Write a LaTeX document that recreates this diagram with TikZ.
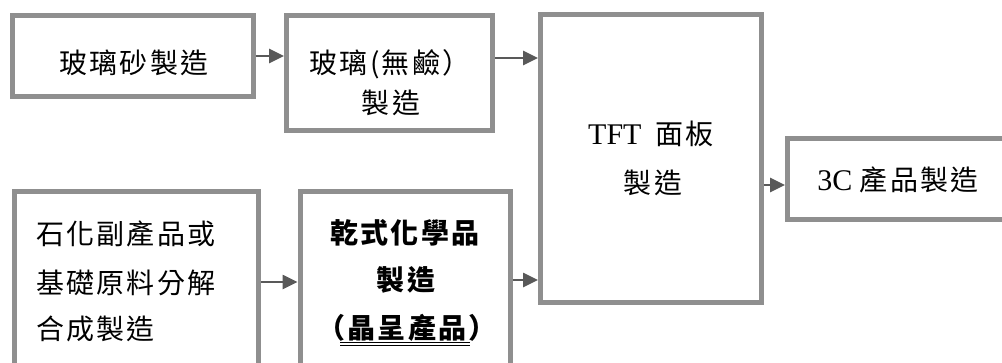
\documentclass[tikz,border=0pt]{standalone}
\usepackage{fontspec}
\setmainfont{Liberation Serif}
\newfontfamily\cjk{Noto Sans CJK TC}[LetterSpace=8]
\usetikzlibrary{arrows.meta}
\definecolor{boxgray}{HTML}{8F8F8F}
\definecolor{arrgray}{HTML}{595959}
\tikzset{
  box/.style={draw=boxgray, line width=5pt, fill=white, inner sep=0pt, rectangle},
  arr/.style={draw=arrgray, line width=2.6pt, -{Triangle[length=15pt,width=14pt]}},
  cj/.style={inner sep=0pt, anchor=base, font=\cjk\fontsize{28}{32}\selectfont},
  cjb/.style={cj, font=\cjk\bfseries\fontsize{28}{32}\selectfont},
  la/.style={inner sep=0pt, anchor=base, font=\fontsize{30}{36}\selectfont}
}
\begin{document}
\begin{tikzpicture}[x=1pt,y=-1pt]
\useasboundingbox (0,0) rectangle (1002,362);
% boxes
\node[box, minimum width=241pt, minimum height=81pt] (b1) at (132.5,56) {};
\node[box, minimum width=206pt, minimum height=115.5pt] (b2) at (389.5,72.75) {};
\node[box, minimum width=221pt, minimum height=288pt] (tft) at (651,158.5) {};
\node[box, minimum width=240pt, minimum height=81.5pt] (c3) at (907.5,178.75) {};
\node[box, minimum width=244.5pt, minimum height=190pt] (b4) at (136.25,286.8) {};
\node[box, minimum width=210pt, minimum height=190pt] (b5) at (405,286.8) {};
% texts
\node[cj] (t1) at (134,73) {玻璃砂製造};
\node[cj] (t2a) at (390,73) {玻璃(無鹼）};
\node[cj] (t2b) at (391,113) {製造};
\node[la] (t3a) at (651,144) {TFT\hspace{14pt}{\cjk\fontsize{28}{32}\selectfont 面板}};
\node[cj] (t3b) at (653,193) {製造};
\node[la] (t4) at (898,190) {3C {\cjk\fontsize{28}{32}\selectfont 產品製造}};
\node[cj, anchor=base west] (t5a) at (36,244) {石化副產品或};
\node[cj, anchor=base west] (t5b) at (36,293) {基礎原料分解};
\node[cj, anchor=base west] (t5c) at (36,339) {合成製造};
\node[cjb] (t6a) at (405,243) {乾式化學品};
\node[cjb] (t6b) at (406,290) {製造};
\node[cjb] (t6c) at (407,338) {（晶呈產品）};
\draw[black, line width=1pt] (340,342) -- (470,342);
\draw[black, line width=1pt] (340,345.3) -- (470,345.3);
% arrows
\draw[arr] (b1.east |- 0,56) -- (b2.west |- 0,56);
\draw[arr] (b2.east |- 0,58) -- (tft.west |- 0,58);
\draw[arr] (b4.east |- 0,282) -- (b5.west |- 0,282);
\draw[arr] (b5.east |- 0,280) -- (tft.west |- 0,280);
\draw[arr] (tft.east |- 0,185) -- (c3.west |- 0,185);
\end{tikzpicture}
\end{document}
